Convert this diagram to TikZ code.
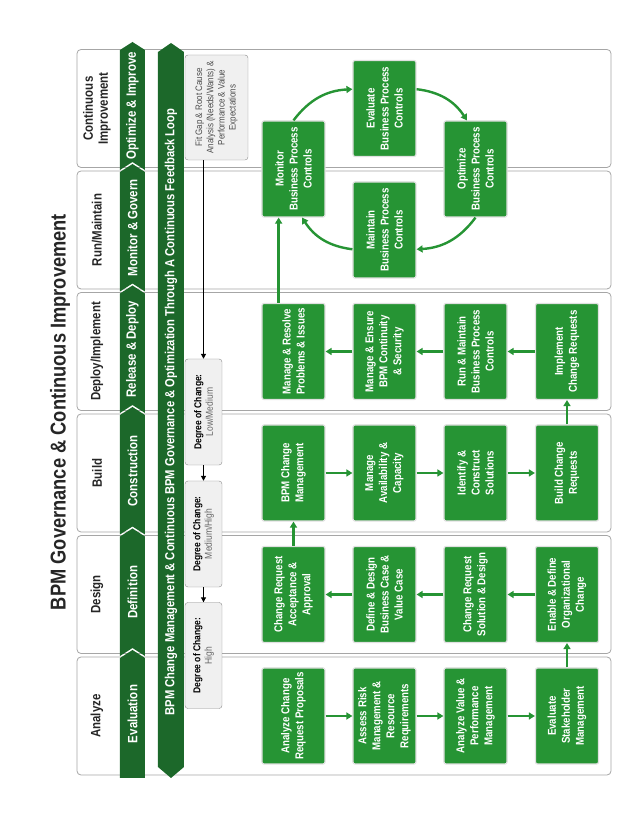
\documentclass[tikz,border=0pt]{standalone}
\usepackage{fontspec}
\setmainfont{Liberation Sans}[FakeStretch=0.85]
\usetikzlibrary{arrows.meta}
\definecolor{boxgreen}{RGB}{38,148,52}
\definecolor{bandgreen}{RGB}{28,104,42}

\begin{document}
\begin{tikzpicture}[x=1pt,y=1pt,rotate=90,transform shape,
  colbox/.style={draw=black!35,fill=white,rounded corners=4pt,line width=0.8pt,minimum width=118pt,minimum height=534pt,inner sep=0pt},
  phase/.style={font=\bfseries\fontsize{13.5}{15}\selectfont,text=black!85,align=center},
  stage/.style={font=\bfseries\fontsize{13.5}{15}\selectfont,text=white},
  task/.style={fill=boxgreen,draw=black!12,line width=1.2pt,rounded corners=2pt,minimum width=96pt,minimum height=63pt,align=center,text=white,font=\bfseries\fontsize{11.4}{14}\selectfont,inner sep=1pt},
  degree/.style={fill=black!6,draw=black!45,rounded corners=3pt,minimum width=106pt,minimum height=37pt,align=center,font=\fontsize{10}{11.5}\selectfont,inner sep=1pt},
  flow/.style={boxgreen,line width=2.4pt,-{Triangle[length=6pt,width=7pt]}},
  guide/.style={black,line width=1.1pt,-{Triangle[length=5pt,width=5pt]}}]
\useasboundingbox (0,0) rectangle (826,638);
% title
\node[font=\bfseries\fontsize{21.5}{24}\selectfont,text=black!85] (title) at (414,578) {BPM Governance \& Continuous Improvement};
% phase columns
\foreach \name [count=\i from 0] in {Analyze,Design,Build,Deploy/Implement,Run/Maintain,{Continuous\\Improvement}}{
  \node[colbox] (col\i) at (110+121.5*\i,294) {};
  \node[phase] (hd\i) at (110+121.5*\i,541) {\name};
}
% stage chevrons
\foreach \a/\d/\b/\txt [count=\i] in {48/0/168/Evaluation,170/8/289.5/Definition,291.5/8/411/Construction,413/8/532.5/Release \& Deploy,534.5/8/654/Monitor \& Govern,656/8/776/Optimize \& Improve}{
  \fill[bandgreen] (\a,493) -- (\b,493) -- (\b+8,505.5) -- (\b,518) -- (\a,518) -- (\a+\d,505.5) -- cycle;
  \node[stage] (st\i) at ({(\a+\b)/2+4},505.5) {\txt};
}
% feedback loop band
\fill[bandgreen] (48,467) -- (59,480) -- (774,480) -- (783,467) -- (774,454) -- (59,454) -- cycle;
\node[stage,font=\bfseries\fontsize{13.2}{15}\selectfont] (band) at (414,467) {BPM Change Management \& Continuous BPM Governance \& Optimization Through A Continuous Feedback Loop};
% degree of change
\node[degree,minimum width=105pt,minimum height=63pt,font=\fontsize{9.4}{11.2}\selectfont,text=black!70] (fit) at (718.5,421.5) {Fit Gap \& Root Cause\\Analysis (Needs/Wants) \&\\Performance \& Value\\Expectations};
\node[degree] (lm) at (414,434.5) {\textbf{Degree of Change:}\\{\color{black!60}Low/Medium}};
\node[degree] (mh) at (292,434.5) {\textbf{Degree of Change:}\\{\color{black!60}Medium/High}};
\node[degree] (hi) at (170.5,434.5) {\textbf{Degree of Change:}\\{\color{black!60}High}};
\draw[guide] (lm.east -| fit.west) -- (lm.east);
\draw[guide] (lm.west) -- (mh.east);
\draw[guide] (mh.west) -- (hi.east);
% analyze
\node[task] (aA) at (110,344.5) {Analyze Change\\Request Proposals};
\node[task] (aB) at (110,253.5) {Assess Risk\\Management \&\\Resource\\Requirements};
\node[task] (aC) at (110,162.5) {Analyze Value \&\\Performance\\Management};
\node[task] (aD) at (110,71) {Evaluate\\Stakeholder\\Management};
% design
\node[task] (dA) at (231.5,344.5) {Change Request\\Acceptance \&\\Approval};
\node[task] (dB) at (231.5,253.5) {Define \& Design\\Business Case \&\\Value Case};
\node[task] (dC) at (231.5,162.5) {Change Request\\Solution \& Design};
\node[task] (dD) at (231.5,71) {Enable \& Define\\Organizational\\Change};
% build
\node[task] (bA) at (353,344.5) {BPM Change\\Management};
\node[task] (bB) at (353,253.5) {Manage\\Availability \&\\Capacity};
\node[task] (bC) at (353,162.5) {Identify \&\\Construct\\Solutions};
\node[task] (bD) at (353,71) {Build Change\\Requests};
% deploy
\node[task] (pA) at (474.5,344.5) {Manage \& Resolve\\Problems \& Issues};
\node[task] (pB) at (474.5,253.5) {Manage \& Ensure\\BPM Continuity\\\& Security};
\node[task] (pC) at (474.5,162.5) {Run \& Maintain\\Business Process\\Controls};
\node[task] (pD) at (474.5,71) {Implement\\Change Requests};
% run / improve cycle
\node[task] (mon) at (657,344.5) {Monitor\\Business Process\\Controls};
\node[task] (eva) at (717.5,253.5) {Evaluate\\Business Process\\Controls};
\node[task] (opt) at (657,162.5) {Optimize\\Business Process\\Controls};
\node[task] (mnt) at (596,253.5) {Maintain\\Business Process\\Controls};
% flow
\draw[flow] (aA.south) -- (aB.north);
\draw[flow] (aB.south) -- (aC.north);
\draw[flow] (aC.south) -- (aD.north);
\draw[flow] (aD.east) -- (dD.west);
\draw[flow] (dD.north) -- (dC.south);
\draw[flow] (dC.north) -- (dB.south);
\draw[flow] (dB.north) -- (dA.south);
\draw[flow] (dA.east) -- (bA.west);
\draw[flow] (bA.south) -- (bB.north);
\draw[flow] (bB.south) -- (bC.north);
\draw[flow] (bC.south) -- (bD.north);
\draw[flow] (bD.east) -- (pD.west);
\draw[flow] (pD.north) -- (pC.south);
\draw[flow] (pC.north) -- (pB.south);
\draw[flow] (pB.north) -- (pA.south);
\draw[flow] (pA.17) -- (mon.163);
\draw[flow] (mon.0) to[bend left=25] (eva.59);
\draw[flow] (eva.-59) to[bend left=25] (opt.10);
\draw[flow] (opt.180) to[bend left=25] (mnt.-121);
\draw[flow] (mnt.121) to[bend left=25] (mon.190);
\end{tikzpicture}
\end{document}
